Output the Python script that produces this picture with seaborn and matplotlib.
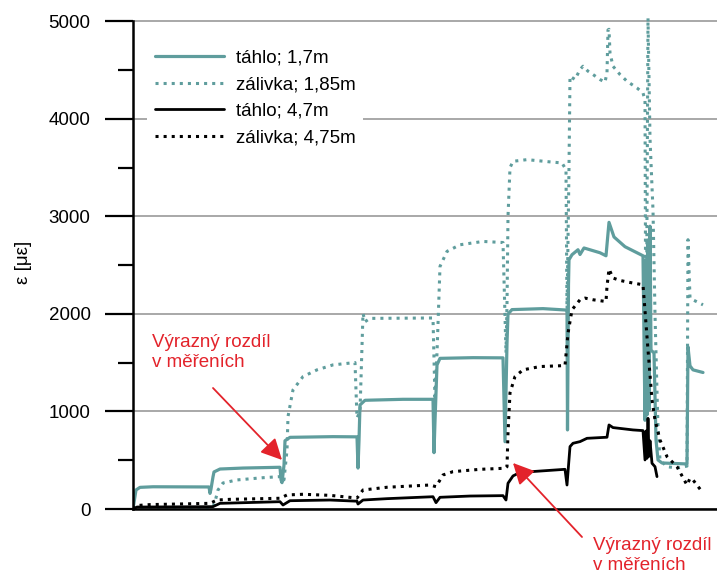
import matplotlib
matplotlib.use("Agg")
import matplotlib.pyplot as plt
from matplotlib.ticker import MultipleLocator, NullLocator
import seaborn as sns

# Strain records (time in arbitrary sample units, strain in microstrain)
t_tahlo_17 = [0, 3, 7, 20, 76, 77, 78, 80, 81, 87, 110, 147, 148, 149, 151, 152, 157, 200, 224,
              225, 226, 227, 232, 270, 300, 301, 302, 304, 307, 340, 370, 372, 374, 375, 379, 410,
              434, 434.5, 435.5, 436, 439, 445, 447, 451, 467, 473, 476, 481, 492, 510, 512, 513,
              514, 515, 516, 517, 518, 521, 523, 525, 529, 554, 555, 557, 560, 570]
e_tahlo_17 = [0, 195, 222, 228, 226, 160, 205, 330, 380, 410, 420, 428, 300, 270, 450, 700, 735,
              742, 740, 420, 700, 1067, 1115, 1125, 1125, 578, 900, 1478, 1545, 1552, 1550, 690,
              1700, 2000, 2045, 2055, 2040, 811, 2300, 2556, 2608, 2659, 2610, 2677, 2628, 2597,
              2940, 2790, 2690, 2597, 910, 2556, 965, 2760, 1015, 2900, 1630, 1600, 708, 503, 472,
              462, 1663, 1468, 1427, 1400]

t_zalivka_185 = [0, 2, 77, 80, 82, 85, 90, 104, 130, 147, 149, 151, 154, 155, 160, 170, 184, 200,
                 222, 224, 227, 230, 232, 237, 300, 302, 304, 307, 314, 327, 350, 370, 373, 374,
                 375, 377, 380, 394, 417, 429, 433, 434, 436, 437, 442, 447, 450, 455, 460, 467,
                 472, 474, 475, 476, 477, 480, 487, 494, 504, 510, 512, 513, 515, 517, 519, 520,
                 522, 524, 525, 527, 534, 544, 554, 555, 557, 560, 570]
e_zalivka_185 = [0, 10, 15, 20, 75, 195, 267, 298, 321, 332, 290, 300, 605, 948, 1222, 1358, 1427,
                 1478, 1502, 934, 1000, 2007, 1921, 1955, 1959, 1119, 1600, 2488, 2642, 2710, 2744,
                 2733, 1600, 2100, 3000, 3500, 3566, 3583, 3560, 3549, 3480, 2010, 3500, 4438,
                 4405, 4507, 4541, 4490, 4456, 4405, 4377, 4477, 4913, 4920, 4677, 4541, 4456,
                 4387, 4318, 4267, 4195, 1000, 5036, 3800, 3305, 3067, 2000, 1200, 845, 503, 434,
                 420, 440, 2762, 2165, 2145, 2094]

t_tahlo_47 = [0, 4, 80, 87, 147, 150, 157, 197, 224, 225, 230, 254, 300, 303, 307, 337, 370, 373,
              375, 380, 387, 432, 434, 437, 440, 447, 454, 474, 476, 480, 500, 510, 512, 513, 514,
              515, 516, 517, 519, 522, 524]
e_tahlo_47 = [0, 20, 24, 58, 75, 41, 85, 92, 80, 51, 92, 106, 126, 65, 120, 133, 137, 92, 264,
              339, 375, 407, 246, 640, 674, 691, 725, 736, 862, 835, 811, 804, 503, 800, 520, 930,
              540, 700, 469, 434, 332]

t_zalivka_475 = [0, 3, 17, 77, 84, 97, 147, 154, 170, 197, 224, 230, 254, 297, 303, 310, 320, 347,
                 372, 374, 375, 377, 382, 390, 407, 432, 435, 439, 447, 452, 460, 473, 474, 476,
                 480, 487, 500, 510, 515, 519, 522, 527, 534, 544, 554, 557, 560, 569]
e_zalivka_475 = [0, 35, 45, 58, 92, 99, 110, 144, 151, 140, 112, 195, 223, 246, 229, 349, 383,
                 407, 418, 434, 780, 1191, 1358, 1427, 1461, 1471, 1802, 2043, 2146, 2163, 2146,
                 2128, 2282, 2461, 2369, 2344, 2317, 2300, 1632, 1119, 914, 708, 537, 434, 246,
                 315, 298, 178]

series_labels = ["táhlo; 1,7m", "zálivka; 1,85m", "táhlo; 4,7m", "zálivka; 4,75m"]
y_ticks = [0, 1000, 2000, 3000, 4000, 5000]

teal = "#5f9d9d"
red = "#e3232b"

sns.set_style("white")
plt.rcParams["font.family"] = ["Liberation Sans", "DejaVu Sans"]
plt.rcParams["font.size"] = 13.5
plt.rcParams["text.color"] = "black"
plt.rcParams["axes.labelcolor"] = "black"
plt.rcParams["ytick.color"] = "black"

fig = plt.figure(figsize=(7.17, 5.75), dpi=100)
ax = fig.add_axes([133 / 717, 1 - 509 / 575, 1 - 133 / 717, (509 - 16.6) / 575])

styles = [
    (t_tahlo_17, e_tahlo_17, teal, "-", 2.3),
    (t_zalivka_185, e_zalivka_185, teal, ":", 2.2),
    (t_tahlo_47, e_tahlo_47, "black", "-", 2.0),
    (t_zalivka_475, e_zalivka_475, "black", ":", 2.2),
]
for (tx, ey, col, ls, lw), lab in zip(styles, series_labels):
    sns.lineplot(x=tx, y=ey, sort=False, estimator=None, color=col, linestyle=ls,
                 linewidth=lw, label=lab, ax=ax)

ax.set_xlim(0, 584)
ax.set_ylim(0, 5050)
ax.xaxis.set_major_locator(NullLocator())
ax.set_yticks(y_ticks)
ax.yaxis.set_minor_locator(MultipleLocator(500))
ax.tick_params(axis="y", which="major", length=20, width=1.6, color="black", pad=10.5,
               labelsize=13.5, labelcolor="black", left=True)
ax.tick_params(axis="y", which="minor", length=11, width=1.6, color="black", left=True)
ax.grid(axis="y", which="major", color="#9a9a9a", linewidth=1.2)
ax.set_axisbelow(True)

for side in ["top", "right"]:
    ax.spines[side].set_visible(False)
ax.spines["left"].set_bounds(0, 5000)
ax.spines["left"].set_linewidth(1.8)
ax.spines["left"].set_color("black")
ax.spines["bottom"].set_linewidth(1.8)
ax.spines["bottom"].set_color("black")

ax.set_ylabel("ε [με]", fontsize=13.5, labelpad=12, color="black")
ax.set_xlabel("")

leg = ax.legend(loc="upper left", bbox_to_anchor=(0.008, 0.967), frameon=True,
                handlelength=3.7, handletextpad=0.65, labelspacing=0.5, borderpad=0.4,
                fontsize=13.5)
leg.get_frame().set_facecolor("white")
leg.get_frame().set_edgecolor("none")
leg.get_frame().set_alpha(1)

arrow = dict(arrowstyle="-|>", color=red, lw=1.3, mutation_scale=32, shrinkA=0, shrinkB=0)
ax.annotate("", xy=(149, 503), xytext=(80, 1241), arrowprops=arrow, annotation_clip=False)
ax.text(19, 1605, "Výrazný rozdíl\nv měřeních", color=red, ha="left", va="center",
        fontsize=13.5, linespacing=1.25)
ax.annotate("", xy=(380, 472), xytext=(449, -287), arrowprops=arrow, annotation_clip=False)
ax.text(460, -480, "Výrazný rozdíl\nv měřeních", color=red, ha="left", va="center",
        fontsize=13.5, linespacing=1.25, clip_on=False)

fig.savefig("out.png", dpi=100)
